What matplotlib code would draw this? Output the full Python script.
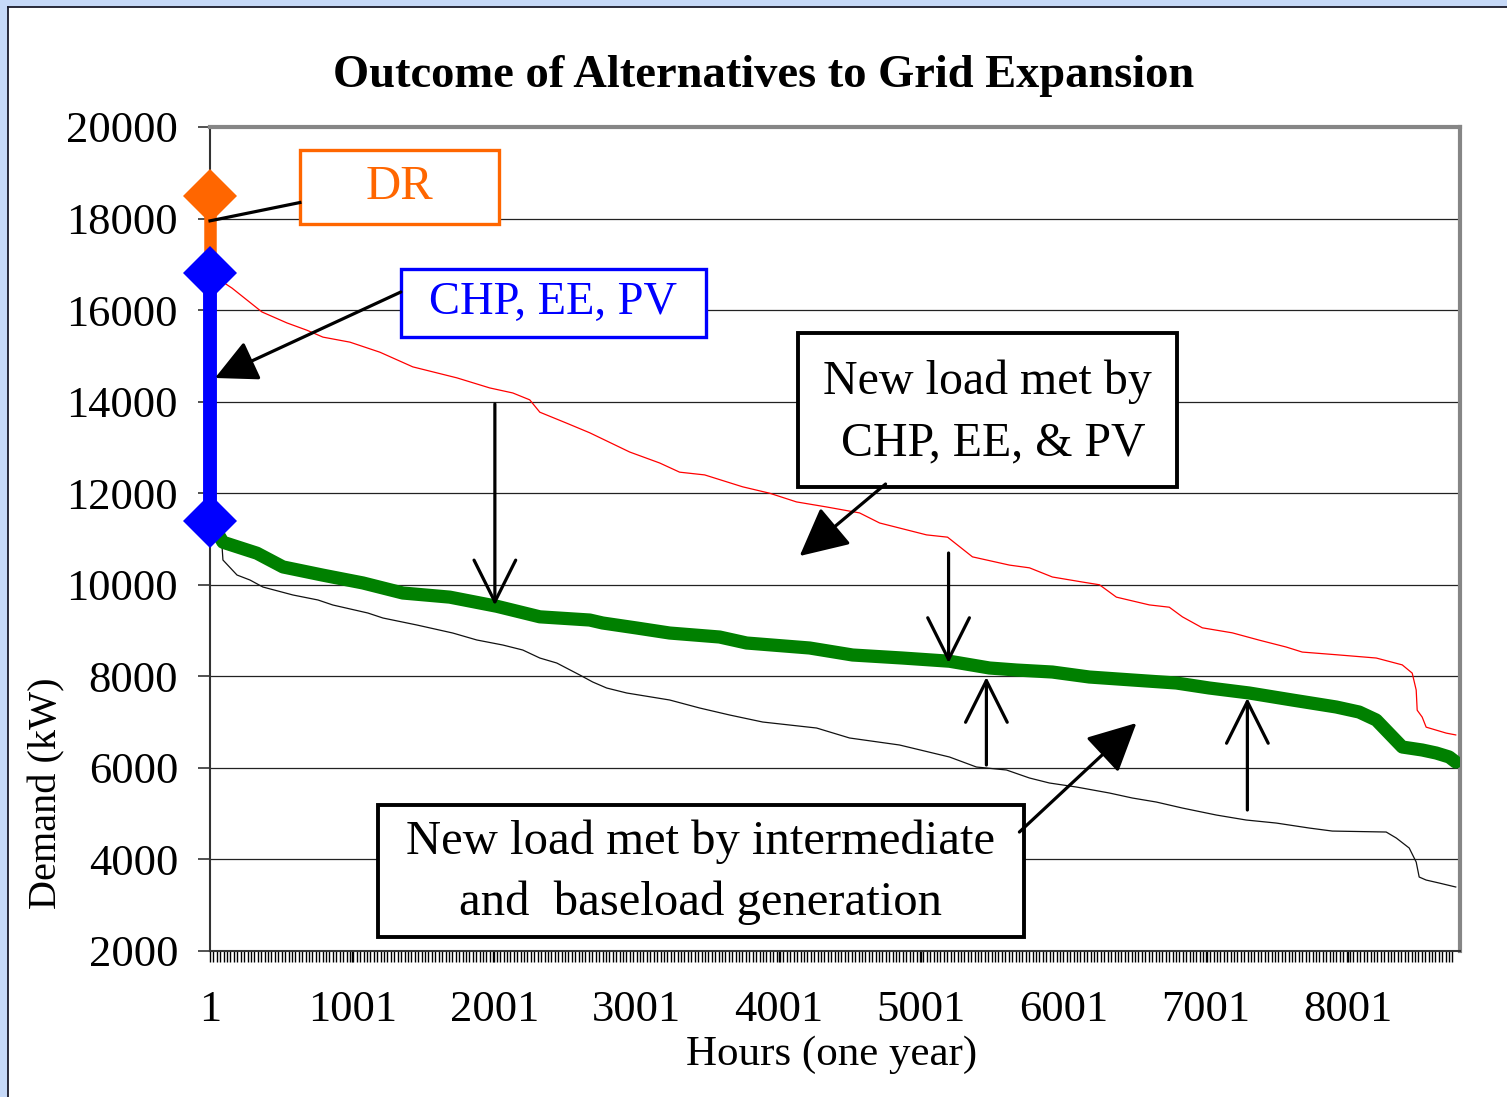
import matplotlib
matplotlib.use("Agg")
import matplotlib.pyplot as plt
import numpy as np
from matplotlib.patches import Rectangle

# ---------------- data ----------------
red_hours = [1, 156, 366, 542, 683, 795, 985, 1196, 1427, 1737, 1968, 2130, 2249, 2320,
             2509, 2671, 2952, 3163, 3303, 3479, 3746, 3936, 4125, 4336, 4568, 4709,
             5039, 5187, 5362, 5622, 5763, 5924, 6135, 6255, 6374, 6606, 6746, 6838,
             6978, 7189, 7379, 7568, 7681, 7927, 8201, 8384, 8454, 8482, 8489, 8524,
             8552, 8693, 8760]
red_load = [16800, 16480, 15960, 15720, 15560, 15410, 15300, 15080, 14760, 14520, 14300,
            14190, 14040, 13770, 13530, 13320, 12900, 12660, 12460, 12400, 12140, 12000,
            11810, 11700, 11570, 11350, 11090, 11040, 10610, 10430, 10370, 10170, 10060,
            10000, 9730, 9560, 9510, 9300, 9060, 8950, 8790, 8640, 8530, 8470, 8400, 8250,
            8070, 7700, 7260, 7110, 6890, 6760, 6720]

green_hours = [1, 92, 331, 514, 795, 1076, 1357, 1687, 2018, 2320, 2671, 2762, 3001, 3233,
               3584, 3774, 4217, 4519, 4870, 5200, 5482, 5671, 5924, 6184, 6486, 6796,
               7027, 7308, 7610, 7920, 8081, 8201, 8384, 8524, 8623, 8714, 8760]
green_load = [11400, 10930, 10690, 10390, 10210, 10040, 9820, 9730, 9530, 9300, 9230,
              9165, 9056, 8946, 8859, 8728, 8619, 8466, 8400, 8330, 8182, 8138, 8094,
              7985, 7920, 7854, 7745, 7636, 7483, 7330, 7220, 7046, 6456, 6391, 6325,
              6238, 6128]

black_hours = [1, 85, 92, 191, 282, 373, 584, 760, 865, 1111, 1217, 1456, 1708, 1877,
               2060, 2200, 2320, 2439, 2601, 2692, 2790, 2931, 3233, 3444, 3655, 3887,
               4266, 4498, 4849, 5200, 5390, 5601, 5763, 5903, 6093, 6325, 6486, 6655,
               6838, 7077, 7287, 7498, 7730, 7892, 8271, 8342, 8433, 8482, 8503, 8552,
               8643, 8760]
black_load = [11300, 10870, 10541, 10213, 10104, 9951, 9777, 9668, 9558, 9383, 9274, 9121,
              8946, 8794, 8684, 8575, 8400, 8291, 8029, 7876, 7745, 7636, 7483, 7308,
              7155, 7002, 6871, 6653, 6500, 6238, 6019, 5954, 5779, 5670, 5582, 5451,
              5342, 5254, 5123, 4970, 4861, 4795, 4686, 4620, 4599, 4468, 4249, 3943,
              3616, 3550, 3485, 3398]

dr_points = [18500, 16800]          # demand response segment
chp_points = [16800, 11400]         # CHP, EE, PV segment

y_ticks = [2000, 4000, 6000, 8000, 10000, 12000, 14000, 16000, 18000, 20000]
x_ticks = [1, 1001, 2001, 3001, 4001, 5001, 6001, 7001, 8001]

SERIF = ["Liberation Serif", "DejaVu Serif"]

W, H = 1507, 1097
fig = plt.figure(figsize=(W / 100, H / 100), dpi=100, facecolor="#C6D9F8")

# white panel with dark left/top edges
fig.patches.append(Rectangle((8 / W, 0), 1, 1 - 7 / H, transform=fig.transFigure,
                             facecolor="white", edgecolor="none", zorder=-10))
fig.add_artist(plt.Line2D([8 / W, 8 / W], [0, 1 - 7 / H], transform=fig.transFigure,
                          color="#1a1a2a", lw=1.3, zorder=-5))
fig.add_artist(plt.Line2D([8 / W, 1], [1 - 7 / H, 1 - 7 / H], transform=fig.transFigure,
                          color="#1a1a2a", lw=1.3, zorder=-5))

ax = fig.add_axes([210 / W, 1 - 951 / H, 1250 / W, 824 / H])
ax.set_zorder(1)
ax.set_facecolor("white")
ax.set_xlim(1, 8790)
ax.set_ylim(2000, 20000)

# grid
for v in y_ticks[1:-1]:
    ax.axhline(v, color="#222222", lw=0.9, zorder=1)

# spines
for s in ["top", "right"]:
    ax.spines[s].set_color("#868686")
    ax.spines[s].set_linewidth(3)
ax.spines["left"].set_color("#333333")
ax.spines["left"].set_linewidth(1.5)
ax.spines["bottom"].set_color("#333333")
ax.spines["bottom"].set_linewidth(1.5)

# curves
ax.plot(red_hours, red_load, color="#FF0000", lw=0.9, zorder=3)
ax.plot(black_hours, black_load, color="#111111", lw=0.9, zorder=3)
ax.plot(green_hours, green_load, color="#008000", lw=9.5, solid_capstyle="round",
        solid_joinstyle="round", zorder=4)

# DR and CHP bars with diamonds
ax.plot([1, 1], dr_points, color="#FF6600", lw=9, zorder=5, clip_on=False)
ax.plot([1], [dr_points[0]], marker="D", ms=27, color="#FF6600", zorder=6, clip_on=False,
        markeredgewidth=0)
ax.plot([1, 1], chp_points, color="#0000FF", lw=10, zorder=5, clip_on=False)
ax.plot([1, 1], chp_points, marker="D", ms=27, color="#0000FF", lw=0, zorder=6,
        clip_on=False, markeredgewidth=0)

# ticks
ax.set_yticks(y_ticks)
ax.set_yticklabels([str(v) for v in y_ticks], fontfamily=SERIF, fontsize=32)
ax.tick_params(axis="y", length=9, width=1.2, color="#333333", pad=14)
ax.set_xticks(np.arange(1, 8761, 24), minor=True)
ax.set_xticks(x_ticks)
ax.set_xticklabels([str(v) for v in x_ticks], fontfamily=SERIF, fontsize=32)
ax.tick_params(axis="x", which="both", length=8, width=1.0, color="black", pad=20)

fig.text(764 / W, 1 - 76 / H, "Outcome of Alternatives to Grid Expansion",
         fontfamily=SERIF, fontweight="bold", fontsize=33.5, ha="center", va="center")
fig.text(832 / W, 1 - 1055 / H, "Hours (one year)", fontfamily=SERIF, fontsize=31,
         ha="center", va="center")
fig.text(47 / W, 1 - 793 / H, "Demand (kW)", rotation=90, ha="center", va="center",
         fontfamily=SERIF, fontsize=29)

# ---------------- annotations ----------------
def box(x0, x1, y0, y1, ec, lw=2.4):
    ax.add_patch(Rectangle((x0, y0), x1 - x0, y1 - y0, facecolor="white", edgecolor=ec,
                           lw=lw, zorder=7))

# DR box
box(633, 2032, 17881, 19498, "#FF6600")
ax.text(1332, 18690, "DR", color="#FF6600", fontfamily=SERIF, fontsize=35,
        ha="center", va="center", zorder=8)
ax.plot([633, 1], [18350, 17950], color="black", lw=2.3, zorder=7, clip_on=False)

# CHP, EE, PV box
box(1343, 3486, 15413, 16898, "#0000FF")
ax.text(2414, 16150, "CHP, EE, PV", color="#0000FF", fontfamily=SERIF, fontsize=33.5,
        ha="center", va="center", zorder=8)
ax.annotate("", xy=(36, 14517), xytext=(1343, 16396),
            arrowprops=dict(arrowstyle="-|>,head_length=2.6,head_width=1.3",
                            mutation_scale=10, color="black", lw=2.3,
                            shrinkA=0, shrinkB=0), zorder=8)

# New load met by CHP, EE & PV
box(4133, 6803, 12136, 15500, "black", lw=2.8)
ax.text(5468, 13760, "New load met by\n CHP, EE, & PV", color="black", fontfamily=SERIF,
        fontsize=34.5, ha="center", va="center", zorder=8, linespacing=1.5)
ax.annotate("", xy=(4147, 10628), xytext=(4751, 12201),
            arrowprops=dict(arrowstyle="-|>,head_length=3.0,head_width=1.5",
                            mutation_scale=10, color="black", lw=2.3,
                            shrinkA=0, shrinkB=0), zorder=8)

# New load met by intermediate and baseload
box(1181, 5721, 2306, 5189, "black", lw=2.8)
ax.text(3451, 3720, "New load met by intermediate\nand  baseload generation",
        color="black", fontfamily=SERIF, fontsize=35, ha="center", va="center", zorder=8,
        linespacing=1.5)
ax.annotate("", xy=(6515, 6980), xytext=(5692, 4599),
            arrowprops=dict(arrowstyle="-|>,head_length=3.0,head_width=1.5",
                            mutation_scale=10, color="black", lw=2.3,
                            shrinkA=0, shrinkB=0), zorder=8)

# open-head vertical arrows
for x, y0, y1 in [(2004, 13950, 9550), (5194, 10694, 8291), (5460, 6063, 7985),
                  (7295, 5080, 7527)]:
    ax.annotate("", xy=(x, y1), xytext=(x, y0),
                arrowprops=dict(arrowstyle="->,head_length=3.0,head_width=1.5",
                                mutation_scale=10, color="black", lw=2.3,
                                shrinkA=0, shrinkB=0), zorder=8)

fig.savefig("out.png", dpi=100, facecolor=fig.get_facecolor())
